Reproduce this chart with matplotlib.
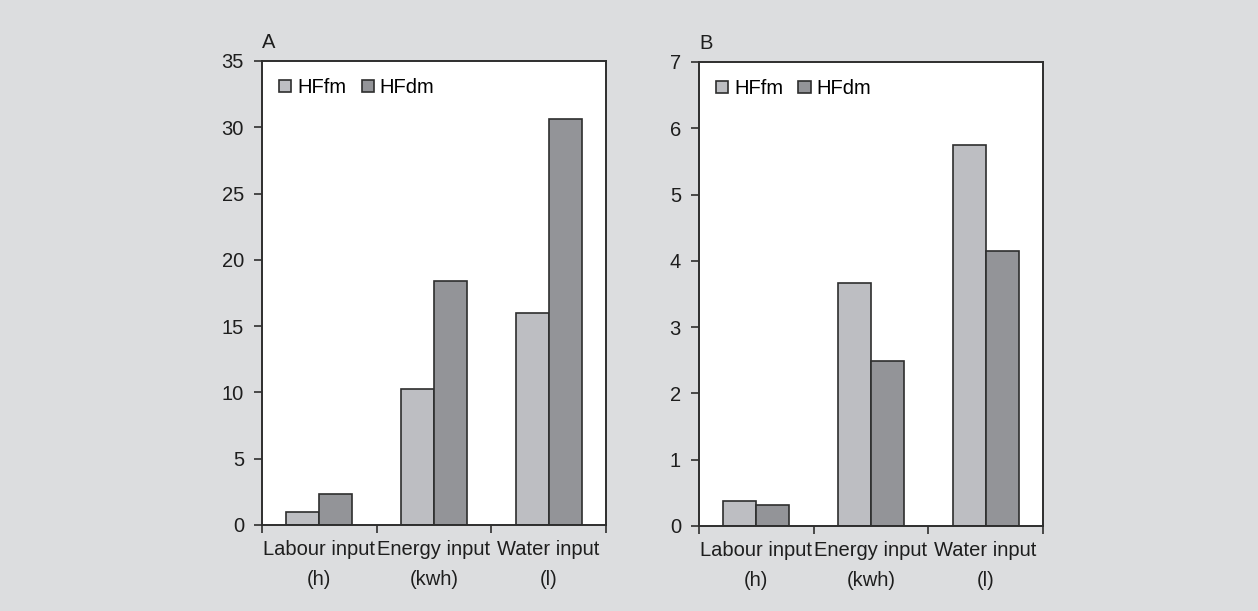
import numpy as np
import matplotlib.pyplot as plt

categories = ['Labour input\n(h)', 'Energy input\n(kwh)', 'Water input\n(l)']
series = ['HFfm', 'HFdm']
values_a = {'HFfm': [1.0, 10.25, 16.0], 'HFdm': [2.35, 18.4, 30.65]}
values_b = {'HFfm': [0.37, 3.66, 5.74], 'HFdm': [0.32, 2.49, 4.15]}
colors = {'HFfm': '#bdbec2', 'HFdm': '#939498'}

plt.rcParams['font.family'] = ['Liberation Sans', 'DejaVu Sans']
bg = '#dcdddf'
edge = '#2e2e2e'
fs = 14.5

fig = plt.figure(figsize=(12.58, 6.11), dpi=100)
fig.patch.set_facecolor(bg)


def panel(rect, vals, ymax, letter):
    ax = fig.add_axes(rect)
    x = np.arange(len(categories))
    w = 0.288
    for i, s in enumerate(series):
        ax.bar(x + (i - 0.5) * w, vals[s], w, color=colors[s], edgecolor=edge,
               linewidth=1.2, label=s)
    ax.set_xlim(-0.5, len(categories) - 0.5)
    ax.set_ylim(0, ymax)
    ax.set_xticks(x)
    ax.set_xticklabels(categories, linespacing=1.75)
    ax.set_xticks(np.arange(len(categories) + 1) - 0.5, minor=True)
    ax.tick_params(axis='x', which='major', length=0, pad=11, labelsize=fs)
    ax.tick_params(axis='x', which='minor', length=6, width=1.2, color=edge)
    ax.tick_params(axis='y', length=6, width=1.2, color=edge, labelsize=fs, pad=7)
    for sp in ax.spines.values():
        sp.set_color(edge)
        sp.set_linewidth(1.4)
    for lab in ax.get_xticklabels() + ax.get_yticklabels():
        lab.set_color('#1e1e1e')
    ax.legend(loc='upper left', frameon=False, ncol=2, fontsize=fs,
              handlelength=0.6, handleheight=0.6, handletextpad=0.3,
              columnspacing=0.75, bbox_to_anchor=(0.0, 1.0), borderaxespad=0.45)
    ax.text(0.0, 1.02, letter, transform=ax.transAxes, fontsize=fs,
            color='#1e1e1e', ha='left', va='bottom')
    return ax


panel([0.2083, 0.1408, 0.2734, 0.7594], values_a, 35, 'A')
panel([0.5556, 0.1392, 0.2734, 0.7594], values_b, 7, 'B')

fig.savefig('out.png', dpi=100, facecolor=bg)
